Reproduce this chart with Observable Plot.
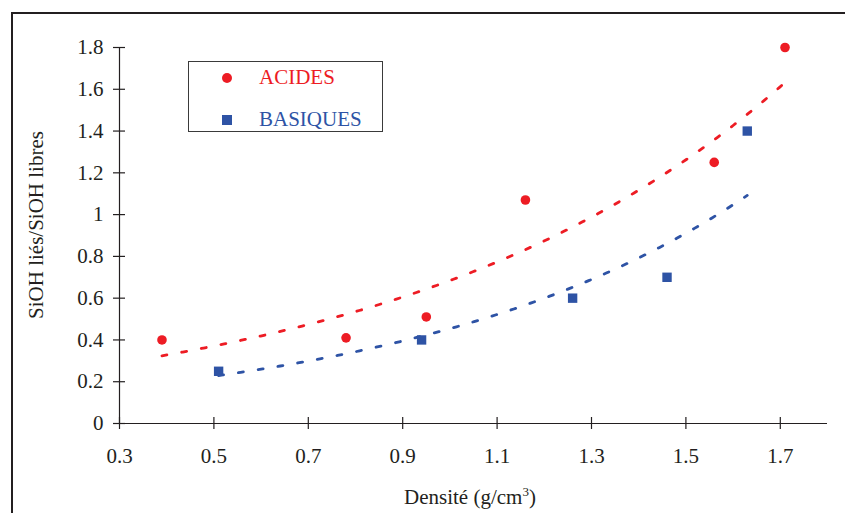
<!DOCTYPE html>
<html><head><meta charset="utf-8">
<script src="https://cdn.jsdelivr.net/npm/d3@7"></script>
<script src="https://cdn.jsdelivr.net/npm/@observablehq/plot@0.6"></script>
<style>
body{margin:0;background:#fff;}
#wrap{position:relative;width:845px;height:513px;overflow:hidden;font-family:"Liberation Serif","Times New Roman",serif;color:#231f20;}
#wrap svg{position:absolute;left:0;top:0;}
#frame{position:absolute;left:11px;top:12px;width:860px;height:540px;border-left:2px solid #231f20;border-top:2px solid #231f20;}
#legend{position:absolute;left:188px;top:61px;width:195px;height:71px;border:1px solid #3a3a3a;box-sizing:border-box;background:#fff;}
.lg{position:absolute;font-size:21px;line-height:1;white-space:nowrap;}
.sym{position:absolute;}
#xt{position:absolute;left:0;width:940px;top:487px;text-align:center;font-size:21px;line-height:1;white-space:nowrap;}
#xt sup{font-size:13px;vertical-align:8px;line-height:0;}
#yt{position:absolute;left:36px;top:225px;font-size:21px;line-height:1;white-space:nowrap;transform:translate(-50%,-50%) rotate(-90deg);}
</style></head>
<body>
<div id="wrap">
  <div id="frame"></div>
  <div id="plot"></div>
  <div id="legend"></div>
  <div id="xt"></div>
  <div id="yt"></div>
</div>
<script>
// ---- data ----
const acidX = [0.39, 0.78, 0.95, 1.16, 1.56, 1.71];
const acidY = [0.40, 0.41, 0.51, 1.07, 1.25, 1.80];
const basX  = [0.51, 0.94, 1.26, 1.46, 1.63];
const basY  = [0.25, 0.40, 0.60, 0.70, 1.40];
const xTicks = [0.3, 0.5, 0.7, 0.9, 1.1, 1.3, 1.5, 1.7];
const yTicks = [0, 0.2, 0.4, 0.6, 0.8, 1, 1.2, 1.4, 1.6, 1.8];
const seriesNames = ["ACIDES", "BASIQUES"];
const xTitleMain = "Densité (g/cm";
const xTitleSup = "3";
const xTitleEnd = ")";
const yTitle = "SiOH liés/SiOH libres";

const ink = "#231f20", red = "#ed1c24", blue = "#2e53a5";

// exponential trendline (least squares on ln y), over the data's x extent
function expTrend(xs, ys) {
  const ly = ys.map(Math.log);
  const mx = d3.mean(xs), my = d3.mean(ly);
  let sxy = 0, sxx = 0;
  xs.forEach((x, i) => { sxy += (x - mx) * (ly[i] - my); sxx += (x - mx) ** 2; });
  const b = sxy / sxx, a = Math.exp(my - b * mx);
  const [x0, x1] = d3.extent(xs);
  return d3.range(0, 121).map(k => { const x = x0 + (x1 - x0) * k / 120; return {x, y: a * Math.exp(b * x)}; });
}
const acid = acidX.map((x, i) => ({x, y: acidY[i]}));
const bas = basX.map((x, i) => ({x, y: basY[i]}));
const acidFit = expTrend(acidX, acidY);
const basFit = expTrend(basX, basY);

const chart = Plot.plot({
  width: 845, height: 513,
  marginLeft: 119, marginRight: 18, marginTop: 47, marginBottom: 90,
  x: {domain: [0.3, 1.8], axis: null},
  y: {domain: [0, 1.8], axis: null},
  style: {fontFamily: '"Liberation Serif","Times New Roman",serif', fontSize: "21px", color: ink, background: "transparent", overflow: "visible"},
  marks: [
    Plot.ruleY([0], {stroke: ink, strokeWidth: 1.2}),
    Plot.ruleX([0.3], {stroke: ink, strokeWidth: 1.2}),
    Plot.ruleX(xTicks, {x: d => d, y1: 0, y2: 0, insetTop: -6, insetBottom: -6, stroke: ink, strokeWidth: 1.2}),
    Plot.ruleY(yTicks, {y: d => d, x1: 0.3, x2: 0.3, insetLeft: -6, insetRight: -6, stroke: ink, strokeWidth: 1.2}),
    Plot.text(xTicks, {x: d => d, y: 0, dy: 33, text: d => String(d), fill: ink, fontSize: 21}),
    Plot.text(yTicks, {x: 0.3, y: d => d, dx: -16, textAnchor: "end", text: d => String(d), fill: ink, fontSize: 21}),
    Plot.line(acidFit, {x: "x", y: "y", stroke: red, strokeWidth: 2.8, strokeDasharray: "5,15"}),
    Plot.line(basFit, {x: "x", y: "y", stroke: blue, strokeWidth: 2.8, strokeDasharray: "5,15"}),
    Plot.dot(acid, {x: "x", y: "y", r: 4.8, fill: red, symbol: "circle"}),
    Plot.dot(bas, {x: "x", y: "y", r: 5.3, fill: blue, symbol: "square"})
  ]
});
document.getElementById("plot").appendChild(chart);

// legend
const lg = document.getElementById("legend");
lg.innerHTML =
  `<div class="sym" style="left:33px;top:11px;width:10px;height:10px;border-radius:50%;background:${red}"></div>` +
  `<div class="lg" style="left:70px;top:5px;color:${red}">${seriesNames[0]}</div>` +
  `<div class="sym" style="left:33px;top:53px;width:10px;height:10px;background:${blue}"></div>` +
  `<div class="lg" style="left:70px;top:47px;color:${blue}">${seriesNames[1]}</div>`;

const xt = document.getElementById("xt");
xt.append(xTitleMain);
const sup = document.createElement("sup"); sup.textContent = xTitleSup; xt.append(sup);
xt.append(xTitleEnd);
document.getElementById("yt").textContent = yTitle;
</script>
</body></html>
